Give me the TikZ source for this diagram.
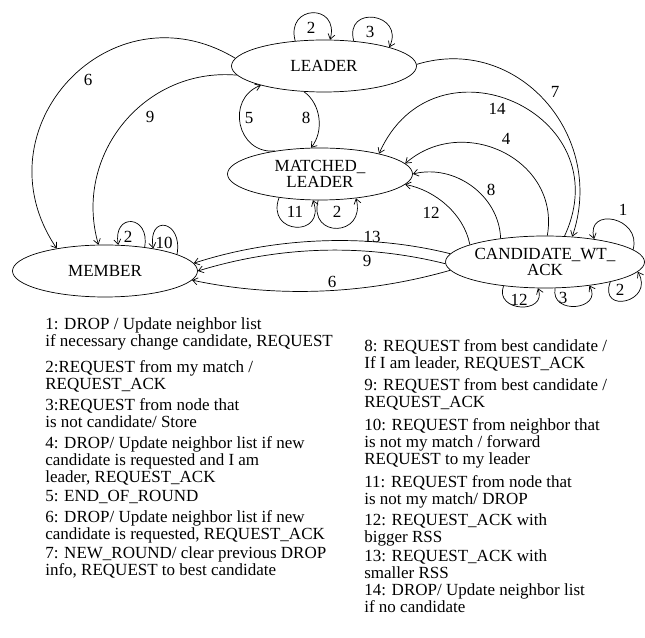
\documentclass[tikz,border=0pt]{standalone}
\usepackage{fontspec}
\setmainfont{Liberation Serif}
\usetikzlibrary{arrows.meta,shapes.geometric}

\begin{document}
\begin{tikzpicture}[->,>={Straight Barb[length=5pt,width=7pt]},x=1pt,y=1pt,
  line width=0.7pt,font=\fontsize{17}{17}\selectfont,
  state/.style={ellipse,draw,minimum width=185pt,minimum height=52pt,inner sep=0pt,align=center},
  lbl/.style={inner sep=0pt},
  legend/.style={anchor=north west,align=left,inner sep=0pt}]

  \useasboundingbox (0,0) rectangle (645,637);

  \node[state] (leader) at (324,571) {LEADER};
  \node[state] (matched) at (320,463) {MATCHED\_\\[-1pt]LEADER};
  \node[state] (member) at (105,366) {MEMBER};
  \node[state] (cand) at (545,375) {CANDIDATE\_WT\_\\[-1pt]ACK};

  % transition numbers
  \node[lbl] (n6a) at (88,557) {6};
  \node[lbl] (n9a) at (150,520) {9};
  \node[lbl] (n5) at (249,519) {5};
  \node[lbl] (n8a) at (306,519) {8};
  \node[lbl] (n7) at (555,545) {7};
  \node[lbl] (n14) at (497,528) {14};
  \node[lbl] (n4) at (506,498) {4};
  \node[lbl] (n8b) at (491,447) {8};
  \node[lbl] (n12b) at (431,424) {12};
  \node[lbl] (n13) at (372,400) {13};
  \node[lbl] (n9b) at (367,376) {9};
  \node[lbl] (n6b) at (332,355) {6};
  \node[lbl] (n2l) at (311,609) {2};
  \node[lbl] (n3l) at (370,605) {3};
  \node[lbl] (n11) at (295,425) {11};
  \node[lbl] (n2m) at (337,425) {2};
  \node[lbl] (n2e) at (128,400) {2};
  \node[lbl] (n10) at (164,394) {10};
  \node[lbl] (n1) at (623,427) {1};
  \node[lbl] (n2c) at (620,347) {2};
  \node[lbl] (n12c) at (519,337) {12};
  \node[lbl] (n3c) at (563,339) {3};

  \path
    (leader.175) edge[out=149,in=124,distance=145] (member.155)
    (leader.186) edge[out=175,in=106,distance=93] (member.104)
    (matched.153) edge[out=185,in=201,distance=38] (leader.197)
    (leader.232) edge[out=-35,in=51,distance=21] (matched.109)
    (leader.1) edge[out=17,in=71,distance=106] (cand.43)
    (cand.53) edge[out=65,in=66,distance=136] (matched.19)
    (cand.85) edge[out=80,in=41,distance=77] (matched.7)
    (cand.152) edge[out=92,in=14,distance=43] (matched.0)
    (cand.167) edge[out=101,in=-11,distance=31] (matched.-7)
    (cand.175) edge[out=166,in=18,distance=85] (member.5)
    (cand.181) edge[out=166,in=17,distance=85] (member.0)
    (cand.185) edge[out=196,in=-12,distance=87] (member.-6)
    % self loops
    (leader.139) edge[out=105,in=75,distance=38] (leader.77)
    (leader.40) edge[out=105,in=65,distance=38] (leader.16)
    (matched.210) edge[out=250,in=290,distance=40] (matched.255)
    (matched.266) edge[out=255,in=285,distance=40] (matched.326)
    (member.31) edge[out=80,in=100,distance=33] (member.63)
    (member.13) edge[out=80,in=100,distance=35] (member.25)
    (cand.8) edge[out=75,in=105,distance=34] (cand.25)
    (cand.-17) edge[out=250,in=300,distance=35] (cand.-6)
    (cand.210) edge[out=250,in=290,distance=28] (cand.255)
    (cand.291) edge[out=260,in=300,distance=28] (cand.332)
    ;

  % legend
  \node[legend] (t1) at (45,320) {1: DROP / Update neighbor list\\if necessary change candidate, REQUEST};
  \node[legend] (t2) at (45,277) {2:REQUEST from my match /\\REQUEST\_ACK};
  \node[legend] (t3) at (45,239) {3:REQUEST from node that\\is not candidate/ Store};
  \node[legend] (t4) at (45,201) {4: DROP/ Update neighbor list if new\\candidate is requested and I am\\leader, REQUEST\_ACK};
  \node[legend] (t5) at (45,147) {5: END\_OF\_ROUND};
  \node[legend] (t6) at (45,127) {6: DROP/ Update neighbor list if new\\candidate is requested, REQUEST\_ACK};
  \node[legend] (t7) at (45,91) {7: NEW\_ROUND/ clear previous DROP\\info, REQUEST to best candidate};
  \node[legend] (t8) at (364,298) {8: REQUEST from best candidate /\\If I am leader, REQUEST\_ACK};
  \node[legend] (t9) at (364,259) {9: REQUEST from best candidate /\\REQUEST\_ACK};
  \node[legend] (t10) at (364,219) {10: REQUEST from neighbor that\\is not my match / forward\\REQUEST to my leader};
  \node[legend] (t11) at (364,162) {11: REQUEST from node that\\is not my match/ DROP};
  \node[legend] (t12) at (364,124) {12: REQUEST\_ACK with\\bigger RSS};
  \node[legend] (t13) at (364,88) {13: REQUEST\_ACK with\\smaller RSS};
  \node[legend] (t14) at (364,54) {14: DROP/ Update neighbor list\\if no candidate};
\end{tikzpicture}
\end{document}
